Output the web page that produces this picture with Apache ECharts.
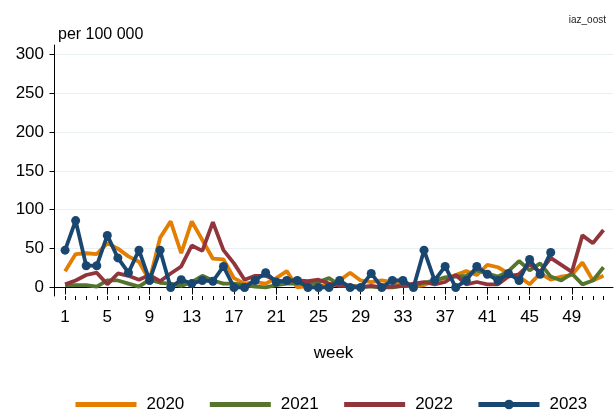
<!DOCTYPE html>
<html>
<head>
<meta charset="utf-8">
<script src="https://cdn.jsdelivr.net/npm/echarts@6/dist/echarts.min.js"></script>
<style>
  html, body { margin: 0; padding: 0; background: #fff; }
  #chart { width: 616px; height: 412px; }
</style>
</head>
<body>
<div id="chart"></div>
<script>
// weekly rates per 100 000
const weeks = [1, 2, 3, 4, 5, 6, 7, 8, 9, 10, 11, 12, 13, 14, 15, 16, 17, 18, 19, 20, 21, 22, 23, 24, 25, 26,
  27, 28, 29, 30, 31, 32, 33, 34, 35, 36, 37, 38, 39, 40, 41, 42, 43, 44, 45, 46, 47, 48, 49, 50, 51, 52];
const weekLabels = [1, 5, 9, 13, 17, 21, 25, 29, 33, 37, 41, 45, 49];
const yTicks = [0, 50, 100, 150, 200, 250, 300];

const y2020 = [21, 43, 44, 43, 57, 50, 40, 33, 9, 64, 85, 44, 85, 61, 37, 36, 12, 5, 7, 5, 12, 21, 0, 2, 3, 2,
  9, 19, 9, 7, 9, 7, 3, 1, 3, 9, 12, 16, 21, 16, 29, 26, 18, 14, 4, 18, 10, 14, 16, 32, 9, 15];
const y2021 = [3, 3, 3, 1, 9, 9, 5, 1, 10, 6, 5, 2, 7, 15, 9, 5, 5, 3, 1, 0, 3, 5, 5, 5, 7, 12,
  3, 2, 1, 1, 0, 0, 2, 2, 6, 9, 13, 14, 15, 22, 18, 14, 21, 34, 22, 31, 14, 9, 18, 4, 9, 26];
const y2022 = [4, 9, 16, 19, 4, 18, 15, 10, 16, 8, 18, 27, 54, 47, 84, 48, 31, 10, 15, 15, 9, 7, 9, 8, 10, 5,
  2, 2, 0, 2, 0, 1, 2, 5, 7, 4, 7, 16, 4, 7, 4, 4, 14, 17, 30, 20, 38, 29, 20, 67, 57, 74];
const y2023 = [48, 86, 28, 28, 67, 38, 19, 48, 9, 48, 0, 10, 5, 9, 8, 27, 0, 0, 9, 19, 7, 9, 9, 0, 0, 0,
  9, 0, 0, 18, 0, 9, 9, 0, 48, 9, 27, 0, 9, 27, 17, 9, 18, 9, 36, 17, 45];

const font = 'Liberation Sans, Arial, Helvetica, sans-serif';

function pairs (vals) {
  return vals.map((v, i) => [weeks[i], v]);
}

function lineSeries (name, vals, color, marker) {
  return {
    name: name,
    type: 'line',
    data: pairs(vals),
    xAxisIndex: 0,
    yAxisIndex: 0,
    symbol: marker ? 'circle' : 'none',
    showSymbol: !!marker,
    symbolSize: 9,
    lineStyle: { width: 3.8, color: color },
    itemStyle: { color: color },
    silent: true
  };
}

const chart = echarts.init(document.getElementById('chart'));
chart.setOption({
  animation: false,
  backgroundColor: '#fff',
  textStyle: { fontFamily: font },
  title: [
    { text: 'per 100 000', left: 53, top: 22, textStyle: { fontSize: 16, fontWeight: 'normal', color: '#000', fontFamily: font } },
    { text: 'iaz_oost', right: 5, top: 10, textStyle: { fontSize: 10, fontWeight: 'normal', color: '#222', fontFamily: font } }
  ],
  grid: { left: 54, right: 3, top: 45, bottom: 116, containLabel: false },
  legend: {
    data: [
      { name: '2020', itemStyle: { opacity: 0 } },
      { name: '2021', itemStyle: { opacity: 0 } },
      { name: '2022', itemStyle: { opacity: 0 } },
      { name: '2023' }
    ],
    left: 68,
    top: 391,
    itemWidth: 61,
    itemHeight: 12,
    itemGap: 23,
    lineStyle: { width: 5 },
    textStyle: { fontSize: 17, color: '#000', fontFamily: font, padding: [0, 0, 0, 5] }
  },
  xAxis: [
    {
      type: 'value',
      min: -0.05,
      max: 52.9,
      position: 'bottom',
      name: 'week',
      nameLocation: 'middle',
      nameGap: 49,
      nameTextStyle: { fontSize: 17, color: '#000', fontFamily: font },
      axisLine: { show: true, lineStyle: { color: '#000', width: 1 } },
      axisTick: { show: true, length: 7, customValues: weekLabels, lineStyle: { color: '#000' } },
      axisLabel: { customValues: weekLabels, margin: 13, fontSize: 17, color: '#000', fontFamily: font },
      splitLine: { show: false }
    },
    {
      type: 'value',
      min: -0.05,
      max: 52.9,
      position: 'bottom',
      axisLine: { show: false },
      axisTick: { show: true, length: 4, customValues: weeks, lineStyle: { color: '#000' } },
      axisLabel: { show: false },
      splitLine: { show: false }
    }
  ],
  yAxis: {
    type: 'value',
    min: -11,
    max: 312,
    axisLine: { show: true, lineStyle: { color: '#000', width: 1 } },
    axisTick: { show: true, length: 5, customValues: yTicks, lineStyle: { color: '#000' } },
    axisLabel: { customValues: yTicks, margin: 10, fontSize: 17, color: '#000', fontFamily: font },
    splitLine: { show: true, lineStyle: { color: '#e9f0f2', width: 1 } }
  },
  series: [
    lineSeries('2020', y2020, '#e37e00', false),
    lineSeries('2021', y2021, '#55752f', false),
    lineSeries('2022', y2022, '#90353b', false),
    lineSeries('2023', y2023, '#1a476f', true)
  ]
});
</script>
</body>
</html>
